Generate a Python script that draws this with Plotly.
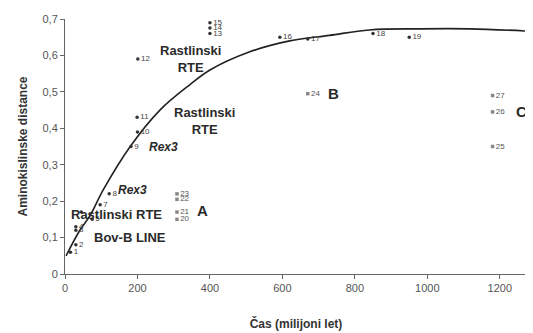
import plotly.graph_objects as go

# --- data ---
pt_labels = ["1", "2", "3", "4", "5", "", "7", "8", "9", "10", "11", "12",
             "13", "14", "15", "16", "17", "18", "19"]
pt_time = [15, 30, 30, 30, 75, 45, 97, 122, 182, 200, 199, 201,
           400, 400, 400, 593, 670, 850, 950]
pt_dist = [0.06, 0.08, 0.12, 0.13, 0.15, 0.17, 0.19, 0.22, 0.35, 0.39, 0.43, 0.59,
           0.66, 0.675, 0.69, 0.65, 0.645, 0.66, 0.65]

grp_labels = ["20", "21", "22", "23", "24", "25", "26", "27"]
grp_time = [309, 309, 309, 309, 670, 1180, 1180, 1180]
grp_dist = [0.15, 0.17, 0.205, 0.22, 0.495, 0.35, 0.445, 0.49]

curve_time = [3, 41, 69, 105, 180, 262, 345, 400, 510, 620, 730, 840, 980, 1117, 1275]
curve_dist = [0.05, 0.12, 0.16, 0.23, 0.35, 0.45, 0.52, 0.56, 0.61, 0.64, 0.655, 0.67, 0.673, 0.673, 0.667]

x_ticks = [0, 200, 400, 600, 800, 1000, 1200]
y_ticks = [0, 0.1, 0.2, 0.3, 0.4, 0.5, 0.6, 0.7]

# annotations: text, time, distance, size, italic
notes = [
    ("Rex3", 185, 0.23, 12, True),
    ("Rex3", 272, 0.35, 12, True),
    ("Rastlinski<br>RTE", 385, 0.42, 13, False),
    ("Rastlinski<br>RTE", 345, 0.59, 13, False),
    ("Rastlinski RTE", 143, 0.162, 13, False),
    ("Bov-B LINE", 180, 0.10, 13, False),
    ("A", 380, 0.173, 15, False),
    ("B", 740, 0.495, 15, False),
    ("C", 1260, 0.445, 15, False),
]

FONT = "Liberation Sans, Arial, sans-serif"

fig = go.Figure()
fig.add_trace(go.Scatter(
    x=curve_time, y=curve_dist, mode="lines",
    line=dict(color="#222222", width=1.6, shape="spline", smoothing=1.0),
    hoverinfo="skip", showlegend=False))
fig.add_trace(go.Scatter(
    x=pt_time, y=pt_dist, mode="markers+text", text=pt_labels,
    textposition="middle right",
    textfont=dict(family=FONT, size=8, color="#444444"),
    marker=dict(color="#333333", size=3.5, symbol="circle"),
    showlegend=False))
fig.add_trace(go.Scatter(
    x=grp_time, y=grp_dist, mode="markers+text", text=grp_labels,
    textposition="middle right",
    textfont=dict(family=FONT, size=8, color="#555555"),
    marker=dict(color="#888888", size=3.5, symbol="square"),
    showlegend=False))

for txt, tx, ty, sz, it in notes:
    t = f"<b><i>{txt}</i></b>" if it else f"<b>{txt}</b>"
    fig.add_annotation(x=tx, y=ty, text=t, showarrow=False,
                       font=dict(family=FONT, size=sz, color="#2a2a2a"),
                       align="center")

# page body adds an 8px offset, so the figure is sized/margined to compensate
fig.update_layout(
    width=525, height=325,
    margin=dict(l=57, r=6, t=11, b=59, autoexpand=False),
    paper_bgcolor="white", plot_bgcolor="white",
    separators=", ",
    font=dict(family=FONT, size=11, color="#555555"),
    xaxis=dict(range=[0, 1275], tickvals=x_ticks, showgrid=False, zeroline=False,
               automargin=False,
               showline=True, linecolor="#666666", linewidth=1,
               ticks="outside", ticklen=4, tickcolor="#666666",
               tickfont=dict(size=11, color="#555555"),
               title=dict(text="<b>Čas (milijoni let)</b>",
                          font=dict(size=12, color="#333333"), standoff=26)),
    yaxis=dict(range=[0, 0.7], tickvals=y_ticks, tickformat=".1f",
               showgrid=False, zeroline=False,
               automargin=False,
               showline=True, linecolor="#666666", linewidth=1,
               ticks="outside", ticklen=4, tickcolor="#666666",
               tickfont=dict(size=11, color="#555555"),
               title=dict(text="<b>Aminokislinske distance</b>",
                          font=dict(size=12, color="#333333"), standoff=12)),
)
fig.update_yaxes(labelalias={"0,0": "0"})

fig.write_html("out.html")
